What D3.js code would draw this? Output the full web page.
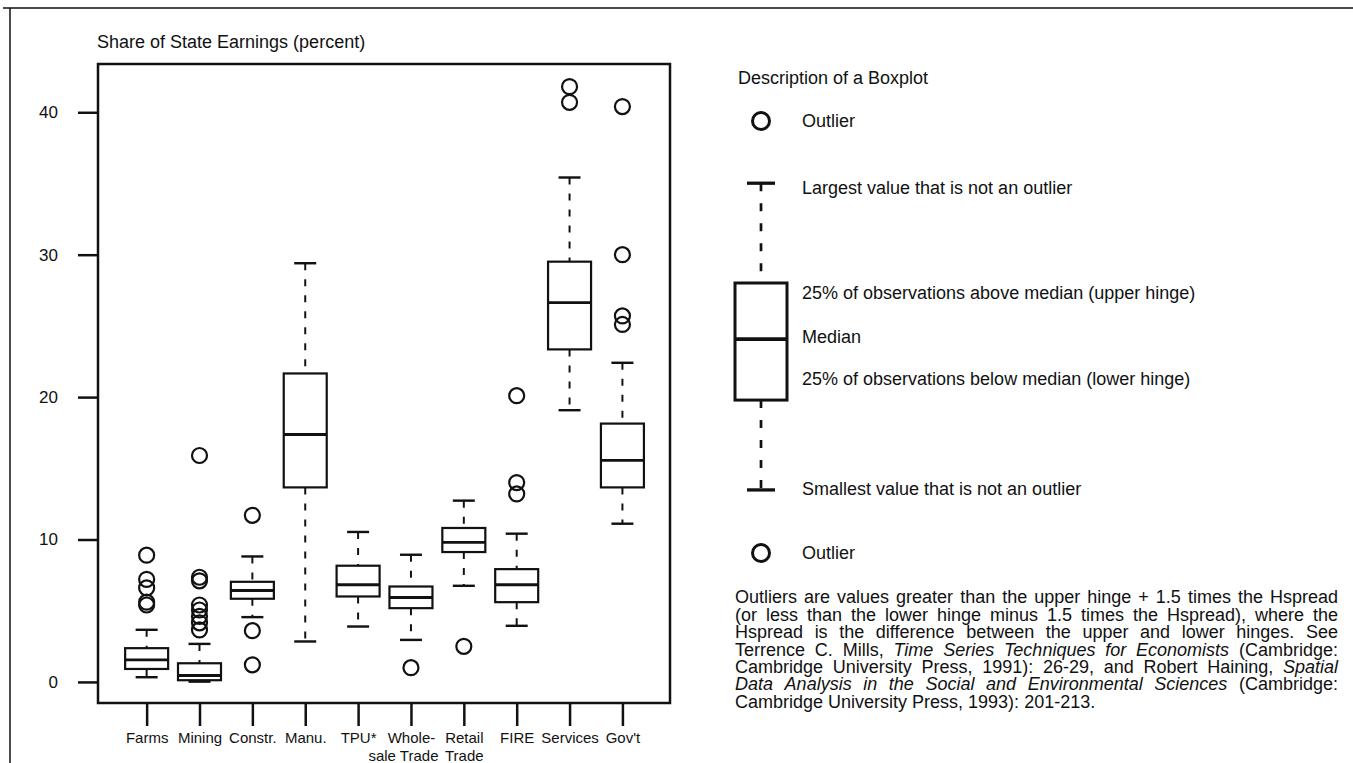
<!DOCTYPE html>
<html>
<head>
<meta charset="utf-8">
<script src="https://cdn.jsdelivr.net/npm/d3@7"></script>
<style>
  body { margin: 0; background: #fff; }
  text { font-family: 'Liberation Sans', Arial, sans-serif; fill: #111; }
</style>
</head>
<body>
<div id="playground"></div>
<script>
// --- Data
var categories = ['Farms', 'Mining', 'Constr.', 'Manu.', 'TPU*', 'Whole-', 'Retail', 'FIRE', 'Services', "Gov't"]
var subLabels = ['', '', '', '', '', 'sale Trade', 'Trade', '', '', '']
var whiskerLow = [0.33, 0.02, 4.55, 2.84, 3.89, 2.95, 6.75, 3.94, 19.08, 11.11]
var lowerHinge = [0.91, 0.12, 5.84, 13.66, 6.0, 5.18, 9.12, 5.6, 23.35, 13.66]
var medians = [1.55, 0.45, 6.42, 17.37, 6.82, 5.93, 9.8, 6.82, 26.63, 15.56]
var upperHinge = [2.37, 1.31, 7.03, 21.66, 8.16, 6.7, 10.81, 7.92, 29.51, 18.14]
var whiskerHigh = [3.66, 2.67, 8.81, 29.4, 10.53, 8.93, 12.73, 10.41, 35.42, 22.41]
var outliers = [
  [8.9, 7.2, 6.6, 5.6, 5.4],
  [15.9, 7.35, 7.1, 5.4, 5.05, 4.6, 4.15, 3.65],
  [11.7, 3.6, 1.2],
  [],
  [],
  [1.0],
  [2.5],
  [20.1, 14.0, 13.2],
  [41.8, 40.7],
  [40.4, 30.0, 25.7, 25.1]
]
var yTicks = [0, 10, 20, 30, 40]
var yTitle = 'Share of State Earnings (percent)'

// Legend (schematic boxplot, arbitrary units 0-100)
var legendTitle = 'Description of a Boxplot'
var legendStats = {lo: 14.6, q1: 35.4, med: 49.5, q3: 62.5, hi: 85.6, out: [0, 100]}
var legendLabels = ['Outlier', 'Largest value that is not an outlier', '25% of observations above median (upper hinge)', 'Median', '25% of observations below median (lower hinge)', 'Smallest value that is not an outlier', 'Outlier']
var legendLabelAt = [100, 84.5, 60.2, 50, 40.3, 14.8, 0]

// Footnote, one entry per printed line: [text, italic] segments
var noteLines = [
  [['Outliers are values greater than the upper hinge + 1.5 times the Hspread', false]],
  [['(or less than the lower hinge minus 1.5 times the Hspread), where the', false]],
  [['Hspread is the difference between the upper and lower hinges.  See', false]],
  [['Terrence C. Mills, ', false], ['Time Series Techniques for Economists', true], [' (Cambridge:', false]],
  [['Cambridge University Press, 1991): 26-29, and Robert Haining, ', false], ['Spatial', true]],
  [['Data Analysis in the Social and Environmental Sciences', true], [' (Cambridge:', false]],
  [['Cambridge University Press, 1993): 201-213.', false]]
]

// --- Settings
var settings = {}
settings.width = 1353
settings.height = 763
settings.plot = {left: 98, top: 64, right: 670, bottom: 703}
settings.ink = '#111'
settings.box_half = 21.5
settings.cap_half = 11
settings.dash = '7,9'
settings.text_size = 18

var svg = d3.select('#playground').append('svg')
  .attr('width', settings.width)
  .attr('height', settings.height)

// Outer frame of the page (top rule + left rule)
svg.append('path')
  .attr('d', 'M3,8H' + settings.width + 'M10,8V' + settings.height)
  .attr('fill', 'none')
  .attr('stroke', settings.ink)
  .attr('stroke-width', 1.5)

// Scales
var p = settings.plot
var x = d3.scaleLinear().domain([0.08, 10.9]).range([p.left, p.right])
var y = d3.scaleLinear().domain([-1.48, 43.39]).range([p.bottom, p.top])

// Title of the y axis
svg.append('text')
  .attr('x', 97)
  .attr('y', 48)
  .attr('font-size', settings.text_size)
  .text(yTitle)

// Y axis
var yAxis = svg.append('g')
  .attr('transform', 'translate(' + p.left + ',0)')
  .call(d3.axisLeft(y).tickValues(yTicks).tickSize(20).tickPadding(20).tickFormat(d3.format('d')))
yAxis.select('.domain').remove()
yAxis.selectAll('line').attr('stroke', settings.ink).attr('stroke-width', 2.5)
yAxis.selectAll('text')
  .attr('font-size', 17)
  .attr('font-family', null)
  .attr('fill', settings.ink)

// X axis
var xAxis = svg.append('g')
  .attr('transform', 'translate(0,' + p.bottom + ')')
  .call(d3.axisBottom(x).tickValues(d3.range(1, 11)).tickSize(23).tickPadding(6).tickFormat(function(d){ return categories[d - 1] }))
xAxis.select('.domain').remove()
xAxis.selectAll('line').attr('stroke', settings.ink).attr('stroke-width', 2.5)
xAxis.selectAll('text')
  .attr('font-size', 15)
  .attr('font-family', null)
  .attr('fill', settings.ink)
  .each(function(d){
    var sub = subLabels[d - 1]
    if (sub) {
      // hyphenated word continues slightly to the left, under its first half
      var shift = categories[d - 1].slice(-1) === '-' ? -8 : 0
      d3.select(this).append('tspan')
        .attr('x', shift)
        .attr('dy', '1.2em')
        .text(sub)
    }
  })

// Plot frame
svg.append('rect')
  .attr('x', p.left)
  .attr('y', p.top)
  .attr('width', p.right - p.left)
  .attr('height', p.bottom - p.top)
  .attr('fill', 'none')
  .attr('stroke', settings.ink)
  .attr('stroke-width', 2.5)

// Boxes
categories.forEach(function(c, i){
  drawBox({
    cx: x(i + 1)
  , scale: y
  , stats: {lo: whiskerLow[i], q1: lowerHinge[i], med: medians[i], q3: upperHinge[i], hi: whiskerHigh[i], out: outliers[i]}
  , half: settings.box_half
  , cap: settings.cap_half
  , stroke: 2.2
  , r: 7.5
  , dash: settings.dash
  })
})

// Legend
svg.append('text')
  .attr('x', 738)
  .attr('y', 78)
  .attr('dy', '0.35em')
  .attr('font-size', settings.text_size)
  .text(legendTitle)

var ly = d3.scaleLinear().domain([0, 100]).range([553, 121])
drawBox({
  cx: 761
, scale: ly
, stats: legendStats
, half: 26
, cap: 14
, stroke: 3
, r: 8.5
, dash: '8,12'
})
legendLabels.forEach(function(t, i){
  svg.append('text')
    .attr('x', 802)
    .attr('y', ly(legendLabelAt[i]))
    .attr('dy', '0.35em')
    .attr('font-size', settings.text_size)
    .text(t)
})

// Footnote, justified between two margins
noteLines.forEach(function(segs, i){
  drawJustified(segs, 735, 1338, 597 + i * 17.4, i < noteLines.length - 1)
})

// ---
// Functions

function drawBox(s /*settings*/){
  var g = svg.append('g')
  var st = s.stats
  var sc = s.scale

  // dashed whiskers
  ;[[st.hi, st.q3], [st.q1, st.lo]].forEach(function(w){
    g.append('line')
      .attr('x1', s.cx).attr('x2', s.cx)
      .attr('y1', sc(w[0])).attr('y2', sc(w[1]))
      .attr('stroke', settings.ink)
      .attr('stroke-width', s.stroke * 0.9)
      .attr('stroke-dasharray', s.dash)
  })

  // caps
  ;[st.hi, st.lo].forEach(function(v){
    g.append('line')
      .attr('x1', s.cx - s.cap).attr('x2', s.cx + s.cap)
      .attr('y1', sc(v)).attr('y2', sc(v))
      .attr('stroke', settings.ink)
      .attr('stroke-width', s.stroke * 1.1)
  })

  // box
  g.append('rect')
    .attr('x', s.cx - s.half)
    .attr('y', sc(st.q3))
    .attr('width', 2 * s.half)
    .attr('height', sc(st.q1) - sc(st.q3))
    .attr('fill', '#fff')
    .attr('stroke', settings.ink)
    .attr('stroke-width', s.stroke)

  // median
  g.append('line')
    .attr('x1', s.cx - s.half).attr('x2', s.cx + s.half)
    .attr('y1', sc(st.med)).attr('y2', sc(st.med))
    .attr('stroke', settings.ink)
    .attr('stroke-width', s.stroke * 1.3)

  // outliers
  st.out.forEach(function(v){
    g.append('circle')
      .attr('cx', s.cx)
      .attr('cy', sc(v))
      .attr('r', s.r)
      .attr('fill', 'none')
      .attr('stroke', settings.ink)
      .attr('stroke-width', s.stroke)
  })
}

function drawJustified(segs, x0, x1, yc, justify){
  var words = []
  segs.forEach(function(s){
    s[0].split(' ').forEach(function(w){
      if (w.length) words.push({t: w, it: s[1]})
    })
  })
  var nodes = words.map(function(w){
    return svg.append('text')
      .attr('y', yc)
      .attr('dy', '0.35em')
      .attr('font-size', 18)
      .attr('font-style', w.it ? 'italic' : 'normal')
      .text(w.t)
  })
  var widths = nodes.map(function(n){ return n.node().getComputedTextLength() })
  var gap = justify ? (x1 - x0 - d3.sum(widths)) / (words.length - 1) : 5
  var cursor = x0
  nodes.forEach(function(n, i){
    n.attr('x', cursor)
    cursor += widths[i] + gap
  })
}
</script>
</body>
</html>
